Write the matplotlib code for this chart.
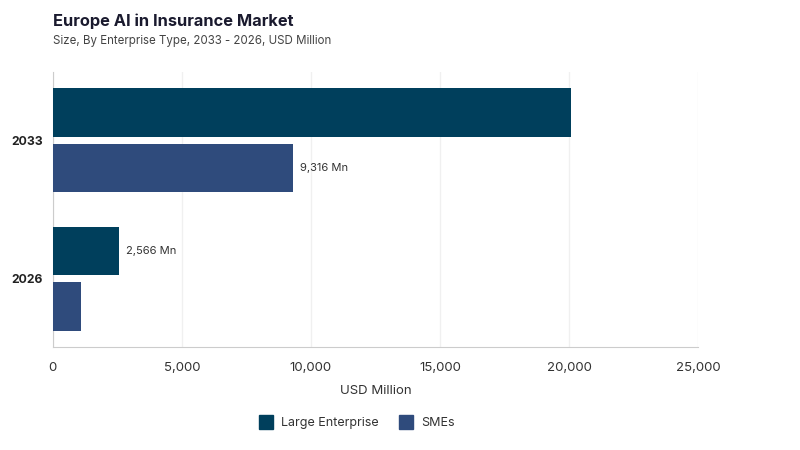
import matplotlib
matplotlib.use('Agg')
import matplotlib.pyplot as plt
import numpy as np

plt.rcParams['font.family'] = ['Inter', 'DejaVu Sans']

# data
years = ['2026', '2033']
large_ent = [2566, 20080]
smes = [1110, 9316]
labels_large = ['2,566 Mn', '']
labels_sme = ['', '9,316 Mn']
series_names = ['Large Enterprise', 'SMEs']
colors = ['#003f5c', '#2f4b7c']

fig = plt.figure(figsize=(8, 4.5), dpi=100)
ax = fig.add_axes([0.066, 0.229, 0.8065, 0.611])

y = np.arange(len(years))
h = 0.35
off = 0.2

b1 = ax.barh(y + off, large_ent, height=h, color=colors[0], zorder=3)
b2 = ax.barh(y - off, smes, height=h, color=colors[1], zorder=3)
ax.bar_label(b1, labels=labels_large, padding=5, fontsize=8, color='#333333')
ax.bar_label(b2, labels=labels_sme, padding=5, fontsize=8, color='#333333')

ax.set_xlim(0, 25000)
ax.set_ylim(-0.49, 1.49)
ax.set_xticks(np.arange(0, 25001, 5000))
ax.set_xticklabels(['{:,}'.format(v) for v in range(0, 25001, 5000)],
                   fontsize=9.5, color='#333333')
ax.set_yticks(y)
ax.set_yticklabels(years, fontsize=8.8, fontweight='bold', color='#222222')
ax.tick_params(axis='x', length=0, pad=11)
ax.tick_params(axis='y', length=0, pad=7)
ax.xaxis.grid(True, color='#f0f0f0', lw=1, zorder=0)
ax.set_axisbelow(True)
for s in ['top', 'right']:
    ax.spines[s].set_visible(False)
ax.spines['left'].set_color('#cccccc')
ax.spines['bottom'].set_color('#cccccc')
ax.set_xlabel('USD Million', fontsize=9.5, color='#333333', labelpad=8)

fig.text(0.066, 0.953, 'Europe AI in Insurance Market', fontsize=11.8,
         fontweight='bold', color='#1a1a2e', va='center')
fig.text(0.066, 0.909, 'Size, By Enterprise Type, 2033 - 2026, USD Million',
         fontsize=8.3, color='#444444', va='center')

handles = [plt.Line2D([], [], marker='s', ls='none', ms=10, mfc=c, mec=c)
           for c in colors]
fig.legend(handles, series_names, loc='center', bbox_to_anchor=(0.443, 0.06),
           ncol=2, frameon=False, fontsize=9, handletextpad=0.2,
           columnspacing=1.2, labelcolor='#333333')

fig.savefig('out.png', dpi=100)
